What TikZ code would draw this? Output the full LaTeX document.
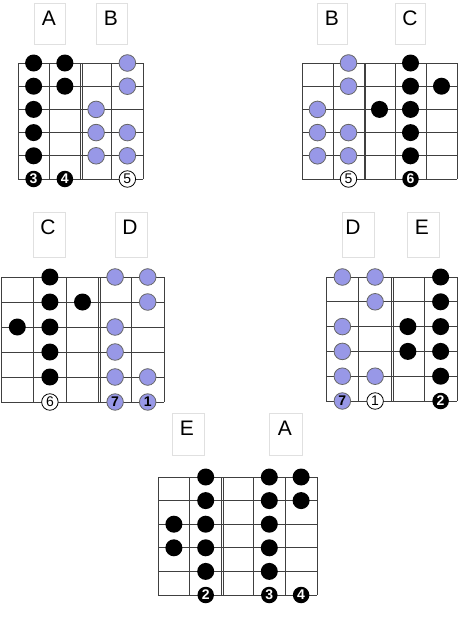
\documentclass[tikz,border=0pt]{standalone}
\usepackage{fontspec}
\setmainfont{Liberation Sans}
\usetikzlibrary{patterns.meta}

\tikzset{
	fret/.style={draw=black!75, line width=1pt},
	blackdot/.style={fill=black},
	bluedot/.style={preaction={fill=blue!22!white}, pattern={Dots[distance=2pt, radius=0.6pt]},
		pattern color=blue!60!black, draw=black!60, line width=0.8pt},
	numcirc/.style={circle, inner sep=0pt, minimum size=16.5pt},
	numblack/.style={numcirc, fill=black, text=white, font=\fontsize{14}{14}\selectfont\bfseries},
	numwhite/.style={numcirc, draw=black, fill=white, line width=0.8pt, font=\fontsize{14}{14}\selectfont},
	numblue/.style={numcirc, bluedot, font=\fontsize{14}{14}\selectfont\bfseries},
	notebox/.style={draw=black!12, line width=0.8pt},
	notename/.style={inner sep=0pt, font=\fontsize{21}{21}\selectfont},
}

% grid: #1 = number of frets, #2 = fret where two pieces meet
\newcommand{\fretboard}[2]{%
	\foreach \r in {0,...,5}
		\draw[fret] (0,\r) -- (#1,\r);
	\foreach \c in {0,...,#1}
		\draw[fret] (\c,0) -- (\c,5);
	\draw[fret] ([xshift=1.7pt]#2,0) -- ([xshift=1.7pt]#2,5);
}

\begin{document}
\begin{tikzpicture}[x=1pt, y=-1pt]
	\useasboundingbox (0,0) rectangle (468,627);

	% A - B
	\draw[notebox] (34,3) rectangle (65,44);
	\draw[notebox] (96,3) rectangle (127,44);
	\node[notename] (lA1) at (49,18) {A};
	\node[notename] (lB1) at (111,18) {B};
	\begin{scope}[shift={(18pt,-63pt)}, x=31.25pt, y=-23.2pt]
		\fretboard{4}{2}
		\foreach \c/\r in {1/0,1/1,1/2,1/3,1/4,2/0,2/1}
			\fill[blackdot] (\c-0.5,\r) circle (8.5pt);
		\foreach \c/\r in {3/2,3/3,3/4,4/0,4/1,4/3,4/4}
			\draw[bluedot] (\c-0.5,\r) circle (8.3pt);
		\node[numblack] (ab3) at (0.5,5) {3};
		\node[numblack] (ab4) at (1.5,5) {4};
		\node[numwhite] (ab5) at (3.5,5) {5};
	\end{scope}

	% B - C
	\draw[notebox] (317,3) rectangle (347,44);
	\draw[notebox] (395,3) rectangle (425,44);
	\node[notename] (lB2) at (332,18) {B};
	\node[notename] (lC2) at (410,18) {C};
	\begin{scope}[shift={(302pt,-63pt)}, x=31pt, y=-23.2pt]
		\fretboard{5}{2}
		\foreach \c/\r in {1/2,1/3,1/4,2/0,2/1,2/3,2/4}
			\draw[bluedot] (\c-0.5,\r) circle (8.3pt);
		\foreach \c/\r in {3/2,4/0,4/1,4/2,4/3,4/4,5/1}
			\fill[blackdot] (\c-0.5,\r) circle (8.5pt);
		\node[numwhite] (bc5) at (1.5,5) {5};
		\node[numblack] (bc6) at (3.5,5) {6};
	\end{scope}

	% C - D
	\draw[notebox] (33,212) rectangle (65,257);
	\draw[notebox] (115,212) rectangle (147,257);
	\node[notename] (lC3) at (48,227) {C};
	\node[notename] (lD3) at (130,227) {D};
	\begin{scope}[shift={(1pt,-277pt)}, x=32.6pt, y=-25pt]
		\fretboard{5}{3}
		\foreach \c/\r in {1/2,2/0,2/1,2/2,2/3,2/4,3/1}
			\fill[blackdot] (\c-0.5,\r) circle (8.5pt);
		\foreach \c/\r in {4/0,4/2,4/3,4/4,5/0,5/1,5/4}
			\draw[bluedot] (\c-0.5,\r) circle (8.3pt);
		\node[numwhite] (cd6) at (1.5,5) {6};
		\node[numblue] (cd7) at (3.5,5) {7};
		\node[numblue] (cd1) at (4.5,5) {1};
	\end{scope}

	% D - E
	\draw[notebox] (342,212) rectangle (374,257);
	\draw[notebox] (407,212) rectangle (439,257);
	\node[notename] (lD4) at (353,227) {D};
	\node[notename] (lE4) at (422,227) {E};
	\begin{scope}[shift={(326pt,-277pt)}, x=32.75pt, y=-24.8pt]
		\fretboard{4}{2}
		\foreach \c/\r in {1/0,1/2,1/3,1/4,2/0,2/1,2/4}
			\draw[bluedot] (\c-0.5,\r) circle (8.3pt);
		\foreach \c/\r in {3/2,3/3,4/0,4/1,4/2,4/3,4/4}
			\fill[blackdot] (\c-0.5,\r) circle (8.5pt);
		\node[numblue] (de7) at (0.5,5) {7};
		\node[numwhite] (de1) at (1.5,5) {1};
		\node[numblack] (de2) at (3.5,5) {2};
	\end{scope}

	% E - A
	\draw[notebox] (172,413) rectangle (204,455);
	\draw[notebox] (269,413) rectangle (302,455);
	\node[notename] (lE5) at (187,428) {E};
	\node[notename] (lA5) at (285,428) {A};
	\begin{scope}[shift={(158pt,-477pt)}, x=31.8pt, y=-23.6pt]
		\fretboard{5}{2}
		\foreach \c/\r in {1/2,1/3,2/0,2/1,2/2,2/3,2/4,4/0,4/1,4/2,4/3,4/4,5/0,5/1}
			\fill[blackdot] (\c-0.5,\r) circle (8.5pt);
		\node[numblack] (ea2) at (1.5,5) {2};
		\node[numblack] (ea3) at (3.5,5) {3};
		\node[numblack] (ea4) at (4.5,5) {4};
	\end{scope}
\end{tikzpicture}
\end{document}
